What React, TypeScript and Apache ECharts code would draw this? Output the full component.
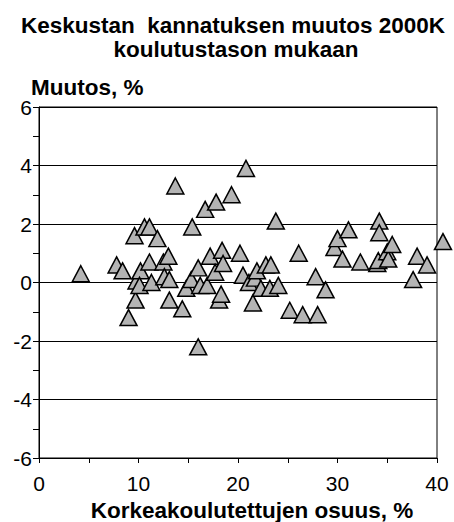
import React, { useEffect, useRef } from "react";
import * as echarts from "echarts";

const titleLines = ["Keskustan  kannatuksen muutos 2000K", "koulutustason mukaan"];
const yTitle = "Muutos, %";
const xTitle = "Korkeakoulutettujen osuus, %";

// Korkeakoulutettujen osuus (%)
const xValues = [
  4.2, 7.8, 8.4, 9.0, 9.6, 9.7, 9.8, 10.2, 10.1, 10.6, 11.1, 11.1, 11.3, 11.9, 12.5,
  12.6, 13.0, 13.1, 13.1, 13.7, 14.4, 14.8, 15.3, 15.4, 16.0, 16.0, 16.2, 16.7, 16.9,
  17.2, 17.7, 17.8, 18.1, 18.3, 18.4, 18.5, 19.35, 20.2, 20.5, 20.8, 21.1, 21.5, 21.7,
  21.9, 22.3, 22.8, 23.3, 23.2, 23.8, 24.05, 25.2, 26.1, 26.5, 27.8, 28.0, 28.8, 29.7,
  30.0, 30.5, 31.1, 32.3, 34.0, 34.1, 34.2, 34.2, 35.0, 35.1, 35.5, 37.6, 38.0, 39.0, 40.6,
];
// Muutos (%)
const yValues = [
  0.3, 0.6, 0.4, -1.2, 1.6, -0.6, 0.05, 0.4, -0.1, 1.9, 1.9, 0.7, 0.0, 1.5, 0.7,
  0.2, 0.9, 0.1, -0.6, 3.3, -0.9, -0.2, 0.1, 1.9, 0.5, -2.2, -0.1, 2.5, -0.1,
  0.9, 0.35, 2.75, -0.6, -0.4, 1.1, 0.65, 3.0, 1.0, 0.25, 3.9, 0.0, -0.7, 0.15,
  0.4, -0.2, 0.6, 0.6, -0.2, 2.1, -0.1, -0.95, 1.0, -1.1, 0.2, -1.1, -0.25, 1.2,
  1.5, 0.8, 1.8, 0.7, 0.65, 0.75, 2.1, 1.7, 1.05, 0.8, 1.3, 0.1, 0.9, 0.6, 1.4,
];

const FONT = "'Liberation Sans', Arial, sans-serif";

export default function App() {
  const ref = useRef<HTMLDivElement>(null);
  useEffect(() => {
    if (!ref.current) return;
    const chart = echarts.init(ref.current, null, { renderer: "svg" });
    const data = xValues.map((x, i) => [x, yValues[i]]);
    const boldText = (text: string, x: number, y: number, align: string) => ({
      type: "text",
      x,
      y,
      style: {
        text,
        font: `bold 22.5px ${FONT}`,
        fill: "#000",
        textAlign: align,
        textVerticalAlign: "middle",
      },
    });
    chart.setOption({
      animation: false,
      backgroundColor: "#fff",
      textStyle: { fontFamily: FONT },
      grid: {
        left: 39,
        top: 107,
        right: 17,
        bottom: 64,
        show: true,
        borderColor: "#000",
        borderWidth: 1,
      },
      xAxis: {
        type: "value",
        min: 0,
        max: 40,
        interval: 10,
        axisLine: { show: true, onZero: false, lineStyle: { color: "#000", width: 1 } },
        axisTick: { show: true, inside: false, length: 5, lineStyle: { color: "#000" } },
        minorTick: { show: true, splitNumber: 2, length: 5, lineStyle: { color: "#000" } },
        splitLine: { show: false },
        axisLabel: { color: "#000", fontSize: 21, fontFamily: FONT, margin: 15 },
      },
      yAxis: {
        type: "value",
        min: -6,
        max: 6,
        interval: 2,
        axisLine: { show: true, onZero: false, lineStyle: { color: "#000", width: 1 } },
        axisTick: { show: true, inside: false, length: 6, lineStyle: { color: "#000" } },
        minorTick: { show: true, splitNumber: 2, length: 6, lineStyle: { color: "#000" } },
        splitLine: { show: true, lineStyle: { color: "#000", width: 1 } },
        axisLabel: { color: "#000", fontSize: 21, fontFamily: FONT, margin: 7 },
      },
      graphic: [
        boldText(titleLines[0], 233, 25, "center"),
        boldText(titleLines[1], 236, 49, "center"),
        boldText(yTitle, 31, 87, "left"),
        boldText(xTitle, 252, 510, "center"),
      ],
      series: [
        {
          type: "scatter",
          data,
          clip: false,
          symbol: "triangle",
          symbolSize: [17, 16],
          itemStyle: { color: "#b4b4b4", borderColor: "#000", borderWidth: 1.5, opacity: 1 },
          emphasis: { disabled: true },
        },
      ],
    });
    return () => chart.dispose();
  }, []);
  return <div ref={ref} style={{ width: 454, height: 522, position: "absolute", left: 0, top: 0 }} />;
}
